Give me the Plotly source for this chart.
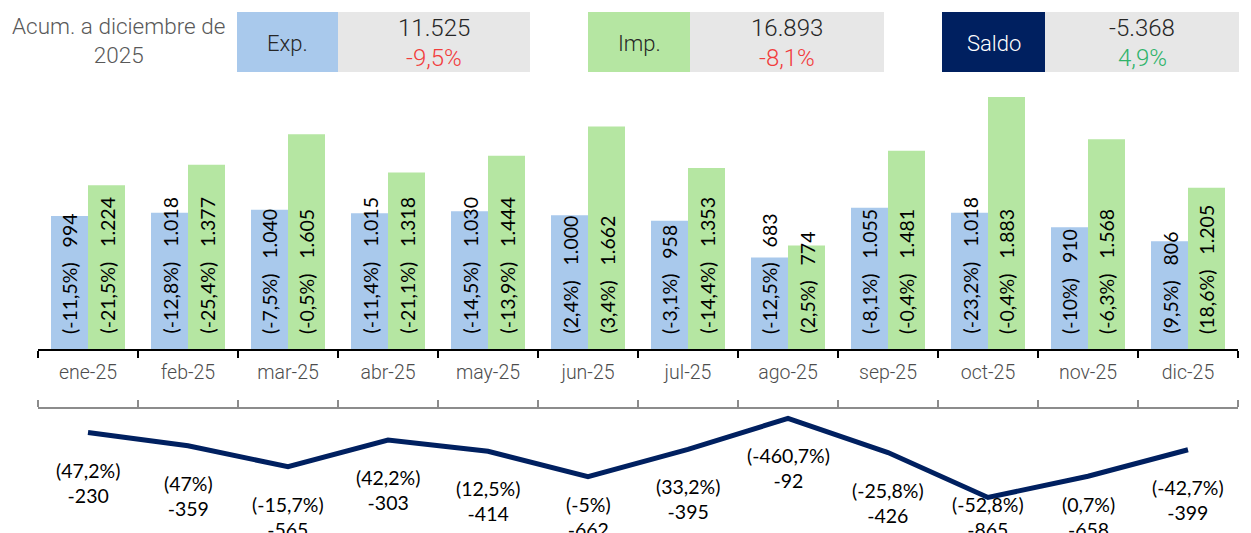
import plotly.graph_objects as go

# ---------------- data ----------------
months = ["ene-25", "feb-25", "mar-25", "abr-25", "may-25", "jun-25",
          "jul-25", "ago-25", "sep-25", "oct-25", "nov-25", "dic-25"]
exp_vals = [994, 1018, 1040, 1015, 1030, 1000, 958, 683, 1055, 1018, 910, 806]
exp_pct = [-11.5, -12.8, -7.5, -11.4, -14.5, 2.4, -3.1, -12.5, -8.1, -23.2, -10, 9.5]
imp_vals = [1224, 1377, 1605, 1318, 1444, 1662, 1353, 774, 1481, 1883, 1568, 1205]
imp_pct = [-21.5, -25.4, -0.5, -21.1, -13.9, 3.4, -14.4, 2.5, -0.4, -0.4, -6.3, 18.6]
saldo_vals = [-230, -359, -565, -303, -414, -662, -395, -92, -426, -865, -658, -399]
saldo_pct = [47.2, 47, -15.7, 42.2, 12.5, -5, 33.2, -460.7, -25.8, -52.8, 0.7, -42.7]

header_title = ["Acum. a diciembre de", "2025"]
header_labels = ["Exp.", "Imp.", "Saldo"]
header_totals = [11525, 16893, -5368]
header_pct = [-9.5, -8.1, 4.9]

# ---------------- styles ----------------
W, H = 1251, 533
BLUE = "#a9c9ec"
GREEN = "#b5e6a2"
NAVY = "#002060"
GREY_BOX = "#e7e7e7"
LABEL_FONT = "Lato"
HEAD_FONT = "Roboto"
GAP = "\u00a0\u00a0\u00a0"


def fmt_num(v):
    return f"{v:,}".replace(",", ".")


def fmt_pct(p):
    return f"{p:g}".replace(".", ",") + "%"


def px_x(px):
    return px / W


def px_y(py):
    return 1 - py / H


x_dom = [px_x(38), px_x(1238)]
bar_dom = [px_y(349), px_y(80)]
line_dom = [0, px_y(409)]
bar_range = [0, 2010]
line_range = [-1213, 0]
boundaries = [i - 0.5 for i in range(len(months) + 1)]

fig = go.Figure()

fig.add_trace(go.Bar(x=months, y=exp_vals, name="Exp.", marker=dict(color=BLUE, line=dict(width=0)),
                     xaxis="x", yaxis="y", hoverinfo="skip"))
fig.add_trace(go.Bar(x=months, y=imp_vals, name="Imp.", marker=dict(color=GREEN, line=dict(width=0)),
                     xaxis="x", yaxis="y", hoverinfo="skip"))
fig.add_trace(go.Scatter(x=months, y=saldo_vals, mode="lines", name="Saldo",
                         line=dict(color=NAVY, width=5), xaxis="x3", yaxis="y2", hoverinfo="skip"))

annotations = []
# bar labels (rotated, from base)
for m, v, p in zip(months, exp_vals, exp_pct):
    annotations.append(dict(x=m, y=0, xref="x", yref="y", xshift=-18.5, yshift=13,
                            text=f"({fmt_pct(p)}){GAP}{fmt_num(v)}", textangle=-90,
                            xanchor="center", yanchor="bottom", showarrow=False,
                            font=dict(family=LABEL_FONT, size=19.5, color="#000000")))
for m, v, p in zip(months, imp_vals, imp_pct):
    annotations.append(dict(x=m, y=0, xref="x", yref="y", xshift=18.5, yshift=13,
                            text=f"({fmt_pct(p)}){GAP}{fmt_num(v)}", textangle=-90,
                            xanchor="center", yanchor="bottom", showarrow=False,
                            font=dict(family=LABEL_FONT, size=19.5, color="#000000")))
# line labels below points, kept inside the bottom area
for m, v, p in zip(months, saldo_vals, saldo_pct):
    ytop = max(v - 235, -802)
    annotations.append(dict(x=m, y=ytop, xref="x3", yref="y2",
                            text=f"({fmt_pct(p)})<br>{fmt_num(v)}",
                            xanchor="center", yanchor="top", showarrow=False,
                            font=dict(family=LABEL_FONT, size=19.5, color="#000000")))

# header
annotations.append(dict(x=px_x(118), y=px_y(41), xref="paper", yref="paper",
                        text="<br>".join(header_title), showarrow=False,
                        xanchor="center", yanchor="middle",
                        font=dict(family=HEAD_FONT, size=22.5, color="#595959", weight=300)))

shapes = []
boxes = [  # (label box x0, x1, value box x1, label color, label text color, pct color)
    (237, 338, 530, BLUE, "#262626", "#f23c3c"),
    (588, 690, 884, GREEN, "#262626", "#f23c3c"),
    (942, 1045, 1239, NAVY, "#ffffff", "#2fb36a"),
]
for (x0, x1, x2, col, tcol, pcol), lab, tot, pct in zip(boxes, header_labels, header_totals, header_pct):
    shapes.append(dict(type="rect", xref="paper", yref="paper", x0=px_x(x0), x1=px_x(x1),
                       y0=px_y(72), y1=px_y(12), fillcolor=col, line=dict(width=0), layer="below"))
    shapes.append(dict(type="rect", xref="paper", yref="paper", x0=px_x(x1), x1=px_x(x2),
                       y0=px_y(72), y1=px_y(12), fillcolor=GREY_BOX, line=dict(width=0), layer="below"))
    annotations.append(dict(x=px_x((x0 + x1) / 2), y=px_y(43), xref="paper", yref="paper",
                            text=lab, showarrow=False, xanchor="center", yanchor="middle",
                            font=dict(family=HEAD_FONT, size=22, color=tcol, weight=300)))
    annotations.append(dict(x=px_x((x1 + x2) / 2), y=px_y(28), xref="paper", yref="paper",
                            text=fmt_num(tot), showarrow=False, xanchor="center", yanchor="middle",
                            font=dict(family=HEAD_FONT, size=24, color="#262626", weight=300)))
    annotations.append(dict(x=px_x((x1 + x2) / 2), y=px_y(58), xref="paper", yref="paper",
                            text=fmt_pct(pct), showarrow=False, xanchor="center", yanchor="middle",
                            font=dict(family=HEAD_FONT, size=24, color=pcol, weight=300)))

fig.update_layout(
    width=W, height=H,
    margin=dict(l=0, r=0, t=0, b=0),
    paper_bgcolor="white", plot_bgcolor="white",
    showlegend=False,
    barmode="group", bargap=0.26, bargroupgap=0,
    xaxis=dict(domain=x_dom, anchor="y", type="category", categoryorder="array", categoryarray=months,
               range=[-0.5, len(months) - 0.5], showline=True, linecolor="#000000", linewidth=2,
               ticks="outside", ticklen=7, tickwidth=2, tickcolor="#000000", tickson="boundaries",
               showgrid=False, zeroline=False, ticklabelstandoff=5,
               tickfont=dict(family=HEAD_FONT, size=19.5, color="#4d4d4d", weight=300)),
    xaxis2=dict(domain=x_dom, anchor="y", overlaying="x", type="linear",
                range=[-0.5, len(months) - 0.5], tickmode="array", tickvals=boundaries,
                ticks="inside", ticklen=7, tickwidth=2, tickcolor="#000000",
                showticklabels=False, showline=False, showgrid=False, zeroline=False),
    yaxis=dict(domain=bar_dom, anchor="x", range=bar_range, visible=False),
    xaxis3=dict(domain=x_dom, anchor="y2", side="top", type="category", categoryorder="array",
                categoryarray=months, range=[-0.5, len(months) - 0.5], showline=True,
                linecolor="#8c8c8c", linewidth=2, ticks="outside", ticklen=7, tickwidth=2,
                tickcolor="#8c8c8c", tickson="boundaries", showticklabels=False,
                showgrid=False, zeroline=False),
    xaxis4=dict(domain=x_dom, anchor="y2", side="top", overlaying="x3", type="linear",
                range=[-0.5, len(months) - 0.5], tickmode="array", tickvals=boundaries,
                ticks="inside", ticklen=7, tickwidth=2, tickcolor="#8c8c8c",
                showticklabels=False, showline=False, showgrid=False, zeroline=False),
    yaxis2=dict(domain=line_dom, anchor="x3", range=line_range, visible=False),
    annotations=annotations,
    shapes=shapes,
)

fig.write_html("out.html", config={"displayModeBar": False},
               post_script="document.body.style.margin='0';document.body.style.overflow='hidden';")
